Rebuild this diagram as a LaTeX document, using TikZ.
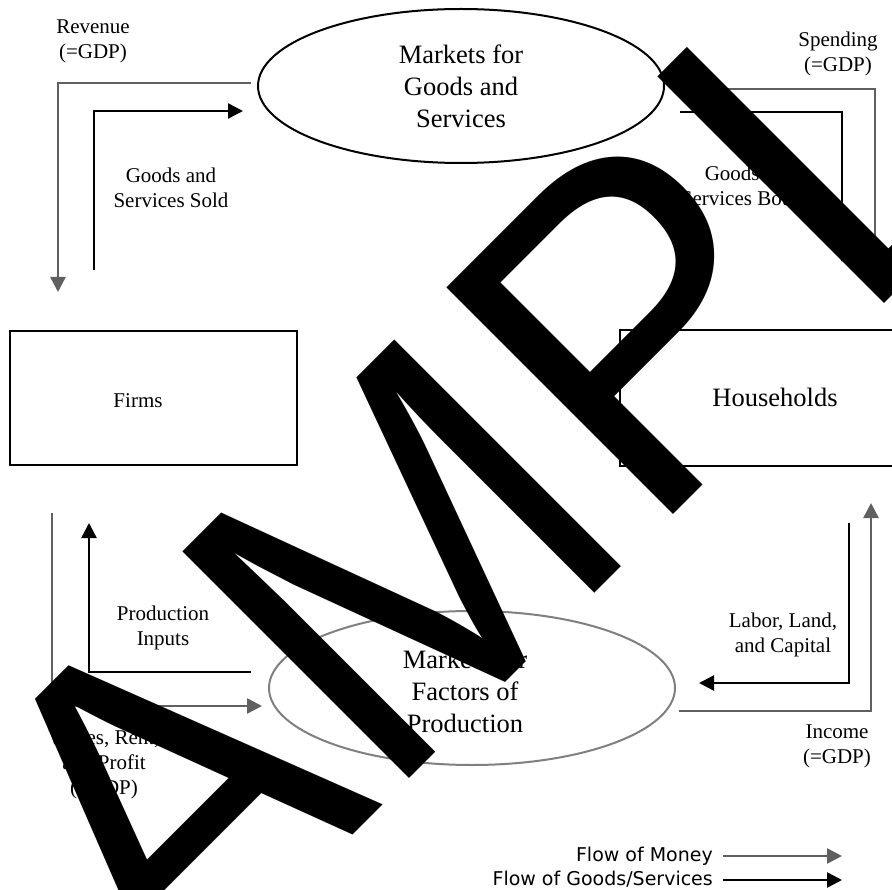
\documentclass[tikz,border=0pt]{standalone}
\usepackage{fontspec}
\setmainfont{Liberation Serif}
\newfontfamily\wmfont{Liberation Sans}
\newfontfamily\legfont{DejaVu Sans}
\usetikzlibrary{arrows.meta,shapes.geometric}
\definecolor{money}{RGB}{96,96,96}
\definecolor{ellgray}{RGB}{128,128,128}
\tikzset{
  lbl/.style={font=\fontsize{21}{25}\selectfont, align=center, anchor=north, inner sep=0pt},
  bigtxt/.style={font=\fontsize{26.5}{32}\selectfont, align=center, anchor=north, inner sep=0pt},
  tip/.style={-{Triangle[length=15pt,width=15pt]}},
  moneyflow/.style={draw=money, line width=2.5pt, tip},
  goodsflow/.style={draw=black, line width=2.5pt, tip},
  agent/.style={draw=black, line width=2.5pt, inner sep=0pt},
  market/.style={ellipse, line width=2pt, inner sep=0pt, minimum width=406pt, minimum height=154pt},
}
\begin{document}
\begin{tikzpicture}[x=1pt,y=-1pt]
\useasboundingbox (0,0) rectangle (892,890);
\fill[white] (0,0) rectangle (892,890);
\clip (0,0) rectangle (892,890);

% markets
\node[market, draw=black] (mg) at (461,86) {};
\node[bigtxt] (mgt) at (461,44.7) {Markets for\\Goods and\\Services};
\node[market, draw=ellgray] (mf) at (472,688) {};
\node[bigtxt] (mft) at (465,649.7) {Markets for\\Factors of\\Production};

% agents
\node[agent, minimum width=287pt, minimum height=134pt] (firms) at (153.5,398) {};
\node[font=\fontsize{21}{25}\selectfont, anchor=base, inner sep=0pt] (firmst) at (138,408) {Firms};
\node[agent, minimum width=310pt, minimum height=136pt] (hh) at (775,398) {};
\node[font=\fontsize{26.5}{32}\selectfont, anchor=base, inner sep=0pt] (hht) at (775,407) {Households};

% connector end points
\coordinate (a1s) at (251,83);  \coordinate (a1c) at (58,83);   \coordinate (a1e) at (58,292);
\coordinate (a2s) at (94,270);  \coordinate (a2c) at (94,111);  \coordinate (a2e) at (243,111);
\coordinate (a3s) at (875,270); \coordinate (a3c) at (875,89);  \coordinate (a3e) at (671,89);
\coordinate (a4s) at (680,112); \coordinate (a4c) at (842,112); \coordinate (a4e) at (842,262);
\coordinate (a5s) at (52,513);  \coordinate (a5c) at (52,706);  \coordinate (a5e) at (262,706);
\coordinate (a6s) at (251,672); \coordinate (a6c) at (89,672);  \coordinate (a6e) at (89,523);
\coordinate (a7s) at (679,711); \coordinate (a7c) at (871,711); \coordinate (a7e) at (871,503);
\coordinate (a8s) at (849,523); \coordinate (a8c) at (849,683); \coordinate (a8e) at (699,683);

\draw[moneyflow] (a1s) -- (a1c) -- (a1e);
\draw[goodsflow] (a2s) -- (a2c) -- (a2e);
\draw[moneyflow] (a3s) -- (a3c) -- (a3e);
\draw[goodsflow] (a4s) -- (a4c) -- (a4e);
\draw[moneyflow] (a5s) -- (a5c) -- (a5e);
\draw[goodsflow] (a6s) -- (a6c) -- (a6e);
\draw[moneyflow] (a7s) -- (a7c) -- (a7e);
\draw[goodsflow] (a8s) -- (a8c) -- (a8e);

% labels
\node[lbl] (l1) at (93,19.5) {\fontsize{21}{27}\selectfont Revenue\\(=GDP)};
\node[lbl] (l2) at (171,167.5) {Goods and\\Services Sold};
\node[lbl] (l3) at (838,31.5) {\fontsize{21}{26}\selectfont Spending\\(=GDP)};
\node[lbl] (l4) at (750,165.5) {Goods and\\Services Bought};
\node[lbl] (l5) at (163,605.5) {Production\\Inputs};
\node[lbl] (l6) at (104,730.5) {\fontsize{21}{24}\selectfont Wages, Rent,\\and Profit\\(=GDP)};
\node[lbl] (l7) at (783,612.5) {Labor, Land,\\and Capital};
\node[lbl] (l8) at (837,724.5) {\fontsize{21}{26}\selectfont Income\\(=GDP)};

% legend
\node[font=\legfont\fontsize{19}{24}\selectfont, anchor=base east, inner sep=0pt] (lg1) at (713,861) {Flow of Money};
\node[font=\legfont\fontsize{19}{24}\selectfont, anchor=base east, inner sep=0pt] (lg2) at (713,885) {Flow of Goods/Services};
\coordinate (lm1) at (723,856); \coordinate (lm2) at (842,856);
\coordinate (lg1a) at (723,880); \coordinate (lg2a) at (842,880);
\draw[moneyflow] (lm1) -- (lm2);
\draw[goodsflow] (lg1a) -- (lg2a);

% watermark
\node[anchor=base west, rotate=45, yscale=1.04, inner sep=0pt, text=black,
      font=\wmfont\fontsize{448}{448}\selectfont] (wm) at (-39,1227) {SAMPLE};
\end{tikzpicture}
\end{document}
